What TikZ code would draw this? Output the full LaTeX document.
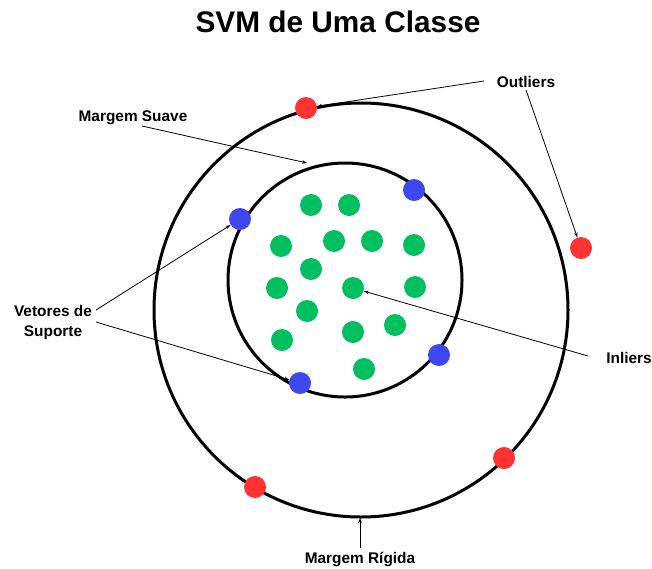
\documentclass[tikz,border=0pt]{standalone}
\usepackage{fontspec}
\setmainfont{Liberation Sans}
\usetikzlibrary{arrows.meta}
\definecolor{outred}{HTML}{FF3333}
\definecolor{svblue}{HTML}{3F48EE}
\definecolor{ingreen}{HTML}{00BF60}
\begin{document}
\begin{tikzpicture}[x=1pt,y=-1pt,
  dot/.style={circle,minimum size=22pt,inner sep=0pt,draw=none},
  outlier/.style={dot,fill=outred},
  support/.style={dot,fill=svblue},
  inlier/.style={dot,fill=ingreen},
  margin/.style={line width=3pt},
  lbl/.style={font=\bfseries\fontsize{15.4}{20}\selectfont,inner sep=0pt,align=center},
  pointer/.style={line width=0.8pt,-{Stealth[length=5pt,width=3.5pt]}}]
\useasboundingbox (0,0) rectangle (652,568);

% title
\node[font=\bfseries\fontsize{29.8}{35}\selectfont,inner sep=0pt] (title) at (338,22) {SVM de Uma Classe};

% hard (outer) and soft (inner) margins
\draw[margin] (361,310) circle[radius=207pt];
\draw[margin] (345,280) circle[radius=117pt];

% outliers
\node[outlier] (r1) at (306,108) {};
\node[outlier] (r2) at (581,248) {};
\node[outlier] (r3) at (504,458) {};
\node[outlier] (r4) at (255,487) {};

% support vectors
\node[support] (b1) at (414,190) {};
\node[support] (b2) at (240,219) {};
\node[support] (b3) at (439,355) {};
\node[support] (b4) at (300,383) {};

% inliers
\node[inlier] (g1) at (311,205) {};
\node[inlier] (g2) at (349,205) {};
\node[inlier] (g3) at (281,246) {};
\node[inlier] (g4) at (334,241) {};
\node[inlier] (g5) at (372,241) {};
\node[inlier] (g6) at (414,245) {};
\node[inlier] (g7) at (311,269) {};
\node[inlier] (g8) at (277,288) {};
\node[inlier] (g9) at (353,288) {};
\node[inlier] (g10) at (415,287) {};
\node[inlier] (g11) at (307,311) {};
\node[inlier] (g12) at (282,340) {};
\node[inlier] (g13) at (353,332) {};
\node[inlier] (g14) at (395,325) {};
\node[inlier] (g15) at (364,369) {};

% labels
\node[lbl] (outl) at (526,82) {Outliers};
\node[lbl] (msoft) at (133,118) {Margem Suave};
\node[lbl] (vsup) at (53,323) {Vetores de\\Suporte};
\node[lbl] (inl) at (629,358) {Inliers};
\node[lbl] (mhard) at (360,559) {Margem Rígida};

% pointer tails and free ends
\coordinate (outl-a) at (484,81);
\coordinate (outl-b) at (526,90);
\coordinate (msoft-a) at (142,126);
\coordinate (msoft-tip) at (307,163);
\coordinate (vsup-a) at (96,310);
\coordinate (vsup-b) at (96,322);
\coordinate (inl-a) at (588,356);
\coordinate (mhard-a) at (360,548);
\coordinate (mhard-tip) at (360,518);

% pointers
\draw[pointer] (outl-a) -- (r1);
\draw[pointer] (outl-b) -- (r2);
\draw[pointer] (msoft-a) -- (msoft-tip);
\draw[pointer] (vsup-a) -- (b2);
\draw[pointer] (vsup-b) -- (b4);
\draw[pointer] (inl-a) -- (g9);
\draw[pointer] (mhard-a) -- (mhard-tip);
\end{tikzpicture}
\end{document}
